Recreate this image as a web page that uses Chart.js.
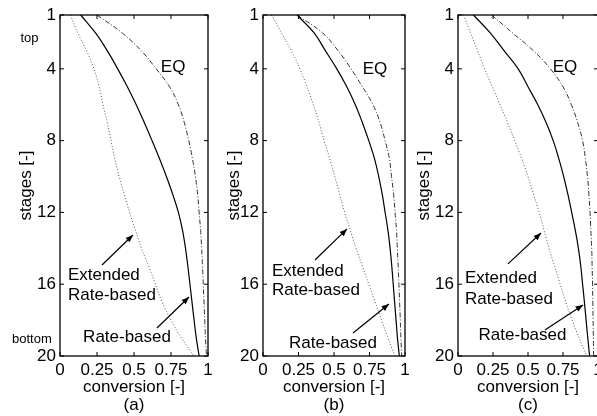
<!DOCTYPE html>
<html>
<head>
<meta charset="utf-8">
<script src="https://cdn.jsdelivr.net/npm/chart.js@4.4.0/dist/chart.umd.min.js"></script>
<style>
  html, body { margin: 0; padding: 0; background: #fff; overflow: hidden; }
  body { width: 597px; height: 416px; position: relative; }
  canvas { position: absolute; left: 0; top: 0; }
</style>
</head>
<body>
<canvas id="pa" width="640" height="416"></canvas>
<canvas id="pb" width="640" height="416"></canvas>
<canvas id="pc" width="640" height="416"></canvas>
<script>
// stage numbers, 1 = top, 20 = bottom
const stages = [1, 2, 3, 4, 5, 6, 7, 8, 9, 10, 11, 12, 13, 14, 15, 16, 17, 18, 19, 20];
const yTicks = [1, 4, 8, 12, 16, 20];
const xTicks = [0, 0.25, 0.5, 0.75, 1];
const xTickLabels = ['0', '0.25', '0.5', '0.75', '1'];

// (a)
const extA  = [0.07, 0.12, 0.18, 0.23, 0.265, 0.29, 0.32, 0.345, 0.37, 0.40, 0.435, 0.47, 0.51, 0.55, 0.60, 0.645, 0.69, 0.75, 0.82, 0.905];
const rateA = [0.14, 0.24, 0.32, 0.39, 0.455, 0.515, 0.57, 0.622, 0.672, 0.719, 0.762, 0.80, 0.828, 0.848, 0.864, 0.878, 0.892, 0.906, 0.921, 0.94];
const eqA   = [0.25, 0.42, 0.55, 0.65, 0.74, 0.80, 0.84, 0.87, 0.895, 0.915, 0.93, 0.94, 0.95, 0.957, 0.963, 0.968, 0.973, 0.978, 0.983, 0.99];

// (b)
const extB  = [0.06, 0.13, 0.20, 0.26, 0.31, 0.355, 0.395, 0.43, 0.47, 0.505, 0.54, 0.575, 0.615, 0.655, 0.70, 0.745, 0.79, 0.835, 0.88, 0.93];
const rateB = [0.24, 0.36, 0.44, 0.52, 0.59, 0.65, 0.70, 0.745, 0.785, 0.815, 0.84, 0.86, 0.88, 0.895, 0.907, 0.917, 0.927, 0.937, 0.947, 0.96];
const eqB   = [0.24, 0.42, 0.53, 0.62, 0.70, 0.775, 0.825, 0.86, 0.89, 0.905, 0.92, 0.93, 0.94, 0.946, 0.952, 0.957, 0.962, 0.967, 0.971, 0.977];

// (c)
const extC  = [0.04, 0.09, 0.14, 0.19, 0.245, 0.30, 0.355, 0.405, 0.455, 0.50, 0.54, 0.58, 0.615, 0.65, 0.69, 0.73, 0.77, 0.815, 0.865, 0.92];
const rateC = [0.11, 0.23, 0.33, 0.43, 0.50, 0.57, 0.63, 0.68, 0.72, 0.755, 0.785, 0.812, 0.838, 0.86, 0.877, 0.89, 0.903, 0.915, 0.927, 0.94];
const eqC   = [0.24, 0.39, 0.54, 0.66, 0.75, 0.81, 0.855, 0.89, 0.91, 0.925, 0.935, 0.943, 0.949, 0.955, 0.958, 0.961, 0.963, 0.965, 0.967, 0.969];

const FONT = '"Liberation Sans", Arial, Helvetica, sans-serif';
Chart.defaults.font.family = FONT;
Chart.defaults.color = '#000';

function arrow(ctx, x1, y1, x2, y2) {
  ctx.beginPath();
  ctx.moveTo(x1, y1);
  ctx.lineTo(x2, y2);
  ctx.stroke();
  const a = Math.atan2(y2 - y1, x2 - x1), L = 8, w = 0.38;
  ctx.beginPath();
  ctx.moveTo(x2, y2);
  ctx.lineTo(x2 - L * Math.cos(a - w), y2 - L * Math.sin(a - w));
  ctx.lineTo(x2 - L * Math.cos(a + w), y2 - L * Math.sin(a + w));
  ctx.closePath();
  ctx.fill();
}

// box round the axes, inward ticks on all four sides, and the notes
const framePlugin = {
  id: 'frame',
  afterDraw(chart, args, opts) {
    const {ctx, chartArea: a} = chart;
    const x = chart.scales.x, y = chart.scales.y;
    const px = v => x.getPixelForValue(v), py = v => y.getPixelForValue(v);
    ctx.save();
    ctx.strokeStyle = '#000';
    ctx.fillStyle = '#000';
    ctx.lineWidth = 1.3;
    ctx.strokeRect(a.left, a.top, a.right - a.left, a.bottom - a.top);
    ctx.lineWidth = 1;
    ctx.beginPath();
    x.ticks.forEach(t => {
      const p = px(t.value);
      ctx.moveTo(p, a.bottom); ctx.lineTo(p, a.bottom - 4);
      ctx.moveTo(p, a.top); ctx.lineTo(p, a.top + 4);
    });
    y.ticks.forEach(t => {
      const p = py(t.value);
      ctx.moveTo(a.left, p); ctx.lineTo(a.left + 4, p);
      ctx.moveTo(a.right, p); ctx.lineTo(a.right - 4, p);
    });
    ctx.stroke();

    const n = opts.notes;
    ctx.font = '17px ' + FONT;
    ctx.textBaseline = 'middle';
    ctx.textAlign = 'center';
    ctx.fillText('EQ', px(n.eq[0]), py(n.eq[1]));
    ctx.textAlign = 'left';
    ctx.fillText('Extended', px(n.ext[0]), py(n.ext[1]));
    ctx.fillText('Rate-based', px(n.ext[0]), py(n.ext[2]));
    ctx.textAlign = 'center';
    ctx.fillText('Rate-based', px(n.rate[0]), py(n.rate[1]));
    ctx.lineWidth = 1.2;
    arrow(ctx, px(n.extArrow[0]), py(n.extArrow[1]), px(n.extArrow[2]), py(n.extArrow[3]));
    arrow(ctx, px(n.rateArrow[0]), py(n.rateArrow[1]), px(n.rateArrow[2]), py(n.rateArrow[3]));
    if (n.ends) {
      ctx.font = '13px ' + FONT;
      ctx.fillText('top', px(n.ends[0]), py(n.ends[1]));
      ctx.fillText('bottom', px(n.ends[2]), py(n.ends[3]));
    }
    ctx.restore();
  }
};

function series(vals) {
  return vals.map((v, i) => ({x: v, y: stages[i]}));
}

function makePanel(id, ext, rate, eq, caption, box, notes) {
  return new Chart(document.getElementById(id), {
    type: 'line',
    data: {
      datasets: [
        {label: 'Extended Rate-based', data: series(ext), borderColor: '#555', borderWidth: 1, borderDash: [1, 2]},
        {label: 'Rate-based', data: series(rate), borderColor: '#000', borderWidth: 1.2},
        {label: 'EQ', data: series(eq), borderColor: '#333', borderWidth: 1, borderDash: [5, 2, 1, 2]}
      ]
    },
    options: {
      responsive: false,
      animation: false,
      devicePixelRatio: 1,
      clip: false,
      elements: {point: {radius: 0}, line: {tension: 0.4}},
      layout: {padding: {left: box.titleLeft, right: 640 - box.right, top: 15, bottom: 2.2}},
      plugins: {legend: {display: false}, tooltip: {enabled: false}, frame: {notes}},
      scales: {
        x: {
          type: 'linear', min: 0, max: 1,
          afterBuildTicks: s => { s.ticks = xTicks.map(v => ({value: v})); },
          afterFit: s => { s.height = 57.8; },
          grid: {display: false, drawTicks: false},
          border: {display: false},
          ticks: {
            padding: 4, maxRotation: 0, autoSkip: false,
            font: {size: 17},
            callback: (v) => xTickLabels[xTicks.indexOf(v)]
          },
          title: {display: true, text: ['conversion [-]', caption], font: {size: 17, lineHeight: 1.05}, padding: 0}
        },
        y: {
          type: 'linear', min: 1, max: 20, reverse: true,
          afterBuildTicks: s => { s.ticks = yTicks.map(v => ({value: v})); },
          afterFit: s => { s.width = box.left - box.titleLeft; },
          grid: {display: false, drawTicks: false},
          border: {display: false},
          ticks: {padding: 4, autoSkip: false, font: {size: 17}},
          title: {display: true, text: 'stages [-]', font: {size: 17}, padding: 0}
        }
      }
    },
    plugins: [framePlugin]
  });
}

makePanel('pa', extA, rateA, eqA, '(a)', {titleLeft: 15.8, left: 60, right: 208}, {
  eq: [0.764, 3.9],
  ext: [0.054, 15.48, 16.6],
  extArrow: [0.284, 14.93, 0.493, 13.26],
  rate: [0.453, 18.94],
  rateArrow: [0.655, 18.44, 0.872, 16.71],
  ends: [-0.206, 2.3, -0.19, 19.05]
});

makePanel('pb', extB, rateB, eqB, '(b)', {titleLeft: 223.8, left: 263, right: 405}, {
  eq: [0.789, 4.0],
  ext: [0.063, 15.26, 16.32],
  extArrow: [0.366, 14.65, 0.592, 12.92],
  rate: [0.493, 19.27],
  rateArrow: [0.634, 18.72, 0.887, 17.1]
});

makePanel('pc', extC, rateC, eqC, '(c)', {titleLeft: 413.8, left: 458, right: 598}, {
  eq: [0.764, 3.9],
  ext: [0.05, 15.65, 16.82],
  extArrow: [0.357, 14.87, 0.593, 13.15],
  rate: [0.461, 18.83],
  rateArrow: [0.621, 18.55, 0.893, 17.16]
});
</script>
</body>
</html>
